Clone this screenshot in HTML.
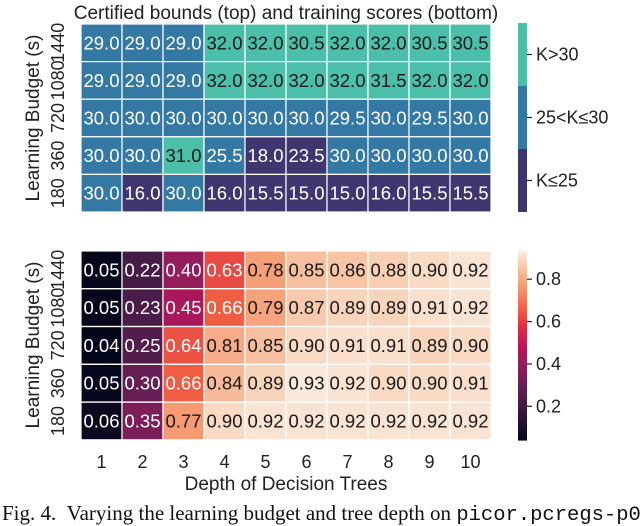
<!DOCTYPE html>
<html><head><meta charset="utf-8"><style>
html,body{margin:0;padding:0;background:#fff;width:640px;height:526px;overflow:hidden}
svg{display:block}
text{font-family:"Liberation Sans",sans-serif}
</style></head><body>
<svg id="chart" width="640" height="526" viewBox="0 0 640 526">
<text x="286" y="19" font-size="19" text-anchor="middle" fill="#222">Certified bounds (top) and training scores (bottom)</text>
<text x="0" y="0" font-size="19" text-anchor="middle" fill="#222" transform="translate(39,118) rotate(-90)">Learning Budget (s)</text>
<text x="0" y="0" font-size="19" text-anchor="middle" fill="#222" transform="translate(39,345) rotate(-90)">Learning Budget (s)</text>
<text x="286" y="490" font-size="19" text-anchor="middle" fill="#222">Depth of Decision Trees</text>
<text x="2" y="520" font-size="21" fill="#111" style="font-family:'Liberation Serif',serif">Fig. 4.&#160;&#160;Varying the learning budget and tree depth on <tspan style="font-family:'Liberation Mono',monospace" font-size="20.5">picor.pcregs-p0</tspan></text>
<g id="top"></g><g id="bot"></g><g id="axes"></g>
</svg>
<script>
const depths = ["1","2","3","4","5","6","7","8","9","10"];
const budgets = ["1440","1080","720","360","180"];
const bounds = [
 [29.0,29.0,29.0,32.0,32.0,30.5,32.0,32.0,30.5,30.5],
 [29.0,29.0,29.0,32.0,32.0,32.0,32.0,31.5,32.0,32.0],
 [30.0,30.0,30.0,30.0,30.0,30.0,29.5,30.0,29.5,30.0],
 [30.0,30.0,31.0,25.5,18.0,23.5,30.0,30.0,30.0,30.0],
 [30.0,16.0,30.0,16.0,15.5,15.0,15.0,16.0,15.5,15.5]
];
const scores = [
 [0.05,0.22,0.40,0.63,0.78,0.85,0.86,0.88,0.90,0.92],
 [0.05,0.23,0.45,0.66,0.79,0.87,0.89,0.89,0.91,0.92],
 [0.04,0.25,0.64,0.81,0.85,0.90,0.91,0.91,0.89,0.90],
 [0.05,0.30,0.66,0.84,0.89,0.93,0.92,0.90,0.90,0.91],
 [0.06,0.35,0.77,0.90,0.92,0.92,0.92,0.92,0.92,0.92]
];
const catLabels = ["K>30","25<K\u226430","K\u226425"];
const scoreTicks = [0.8,0.6,0.4,0.2];

const NS="http://www.w3.org/2000/svg";
const X0=81, X1=491, TOP0=24, TOP1=212, BOT0=251, BOT1=440;
const VMIN=0.041, VMAX=0.933;
const cw=(X1-X0)/depths.length;
const xAt=i=>X0+i*cw;
const yTop=j=>TOP0+j*(TOP1-TOP0)/budgets.length;
const yBot=j=>BOT0+j*(BOT1-BOT0)/budgets.length;
const rh=(TOP1-TOP0)/budgets.length;
const CB0=518, CBW=9;
const cbY=v=>BOT0+(VMAX-v)/(VMAX-VMIN)*(BOT1-BOT0);
const FS=18.5;

const stops=["#03051A","#221331","#451C47","#6A1F56","#921C5B","#B91657","#DD2C45","#F06043","#F5936A","#F6BC9A","#FAEBDD"];
function hex(h){return [1,3,5].map(k=>parseInt(h.substr(k,2),16));}
function rocket(t){t=Math.max(0,Math.min(1,t));const p=t*10,i=Math.min(9,Math.floor(p)),f=p-i;const a=hex(stops[i]),b=hex(stops[i+1]);return "rgb("+a.map((c,k)=>Math.round(c+(b[k]-c)*f)).join(",")+")";}
function cat(v){return v>30?0:(v>25?1:2);}
const catCol=["#4bbfa9","#3478a4","#3f3670"];
function mk(tag,attrs,parent){const e=document.createElementNS(NS,tag);for(const k in attrs)e.setAttribute(k,attrs[k]);parent.appendChild(e);return e;}

const gT=document.getElementById("top"), gB=document.getElementById("bot"), gA=document.getElementById("axes");
budgets.forEach((b,j)=>{
  depths.forEach((d,i)=>{
    const v=bounds[j][i], c=cat(v);
    const r=mk("rect",{x:xAt(i),y:yTop(j),width:cw,height:rh,fill:catCol[c],stroke:"#fff","stroke-width":1.2},gT);
    
    
    const t=mk("text",{x:xAt(i)+cw/2,y:yTop(j)+rh/2+6.5,"font-size":FS,"text-anchor":"middle",fill:c===0?"#1a1a1a":"#fff"},gT);
    t.textContent=v.toFixed(1);
    
    
    const s=scores[j][i], tt=(s-VMIN)/(VMAX-VMIN);
    const r2=mk("rect",{x:xAt(i),y:yBot(j),width:cw,height:rh,fill:rocket(tt),stroke:"#fff","stroke-width":1.2},gB);
    
    
    const t2=mk("text",{x:xAt(i)+cw/2,y:yBot(j)+rh/2+6.5,"font-size":FS,"text-anchor":"middle",fill:tt<0.75?"#fff":"#1a1a1a"},gB);
    t2.textContent=s.toFixed(2);
    
    
  });
  [yTop,yBot].forEach(f=>{
    const l=mk("text",{"font-size":18,"text-anchor":"middle",fill:"#222",transform:"translate("+64+","+(f(j)+rh/2)+") rotate(-90)"},gA);
    l.textContent=b;
    
    
  });
});
depths.forEach((d,i)=>{
  const l=mk("text",{x:xAt(i)+cw/2,y:468,"font-size":18,"text-anchor":"middle",fill:"#222"},gA);
  l.textContent=d;
  
  
});
const segH=(TOP1-TOP0+1)/3;
catLabels.forEach((lab,k)=>{
  const y=23+k*segH;
  const r=mk("rect",{x:CB0,y:y,width:CBW,height:segH,fill:catCol[k]},gA);
  
  
  mk("line",{x1:CB0+CBW,x2:CB0+CBW+5,y1:y+segH/2,y2:y+segH/2,stroke:"#222","stroke-width":1.2},gA);
  const t=mk("text",{x:CB0+CBW+9,y:y+segH/2+6,"font-size":18,fill:"#222"},gA);
  t.textContent=lab;
  
  
});
const N=80;
for(let k=0;k<N;k++){
  const v0=VMAX-(VMAX-VMIN)*k/N;
  const r=mk("rect",{x:CB0,y:cbY(v0),width:CBW,height:(BOT1-BOT0)/N+0.6,fill:rocket((v0-VMIN)/(VMAX-VMIN))},gA);
  
  
}
scoreTicks.forEach(v=>{
  const y=cbY(v);
  mk("line",{x1:CB0+CBW,x2:CB0+CBW+5,y1:y,y2:y,stroke:"#222","stroke-width":1.2},gA);
  const t=mk("text",{x:CB0+CBW+9,y:y+6,"font-size":18,fill:"#222"},gA);
  t.textContent=v.toFixed(1);
  
  
});
</script>
</body></html>
